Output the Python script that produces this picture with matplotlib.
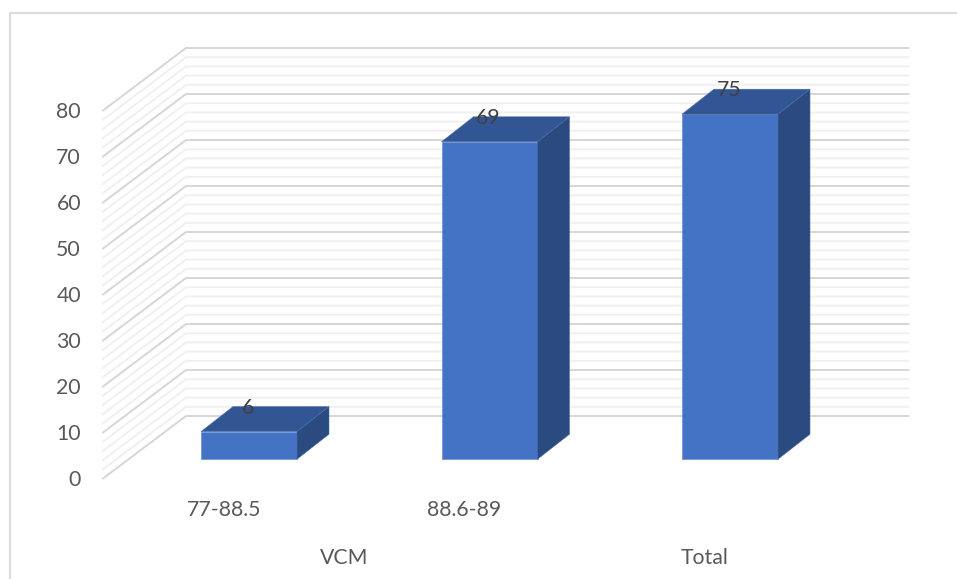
import numpy as np
import matplotlib
matplotlib.use('Agg')
from matplotlib import pyplot as plt
from matplotlib.patches import Polygon

plt.rcParams['font.family'] = ['Lato', 'DejaVu Sans']

categories = ['77-88.5', '88.6-89', '']
groups = ['VCM', 'Total']
values = [6, 69, 75]
major_ticks = [0, 10, 20, 30, 40, 50, 60, 70, 80]
minor_ticks = np.arange(0, 81, 2)

W, H = 957, 579
PX_X = 240.5   # pixels per category
PX_Y = 4.6     # pixels per value unit
X0, Y0 = 249, 459.2

def dx(px):
    return px / PX_X

def dy(px):
    return px / PX_Y

fig = plt.figure(figsize=(W / 100, H / 100), dpi=100)
ax = fig.add_axes([0, 0, 1, 1])
ax.set_xlim(-X0 / PX_X, (W - X0) / PX_X)
ax.set_ylim((Y0 - H) / PX_Y, Y0 / PX_Y)
ax.axis('off')

# chart border
frame = '#dcdcdc'
ax.plot([dx(9.5 - X0), dx(9.5 - X0), dx(W - X0)],
        [dy(Y0 - H), dy(Y0 - 12.5), dy(Y0 - 12.5)], color=frame, lw=1.6, zorder=1)

# walls
x_front, x_back, x_end = dx(103 - X0), dx(186 - X0), dx(908.5 - X0)
y_front, y_back = dy(Y0 - 478.5), dy(Y0 - 416)
for v in minor_ticks:
    if v in major_ticks:
        c, lw = '#d6d6d6', 1.4
    else:
        c, lw = '#f0f0f0', 1.4
    ax.plot([x_front, x_back, x_end], [y_front + v, y_back + v, y_back + v],
            color=c, lw=lw, zorder=2 if v not in major_ticks else 3)

# bars
bar_w = dx(96)
depth_x, depth_y = dx(32), dy(25)
for i, v in enumerate(values):
    l, r = i - bar_w / 2, i + bar_w / 2
    ax.bar(i, v, width=bar_w, color='#4472c4', edgecolor='#6a8fd2', lw=0.5, zorder=5)
    ax.add_patch(Polygon([(l, v), (r, v), (r + depth_x, v + depth_y), (l + depth_x, v + depth_y)],
                         closed=True, fc='#325594', ec='#4a6cab', lw=0.4, zorder=5))
    ax.add_patch(Polygon([(r, 0), (r + depth_x, depth_y), (r + depth_x, v + depth_y), (r, v)],
                         closed=True, fc='#2a4a80', ec='#4a6cab', lw=0.4, zorder=5))
    ax.text(i - dx(1), v + dy(24), str(v), ha='center', va='center',
            fontsize=15.3, color='#404040', zorder=6)

# value axis labels
for v in major_ticks:
    ax.text(dx(81 - X0), y_front + v - dy(1.5), str(v), ha='right', va='center',
            fontsize=15.3, color='#595959')

# category labels
for i, name in enumerate(categories):
    ax.text(i - dx(25), dy(Y0 - 509.5), name, ha='center', va='center',
            fontsize=15.3, color='#595959')
for pos, name in zip([0.395, 1.895], groups):
    ax.text(pos, dy(Y0 - 557.5), name, ha='center', va='center',
            fontsize=15.3, color='#595959')

fig.savefig('out.png', dpi=100)
